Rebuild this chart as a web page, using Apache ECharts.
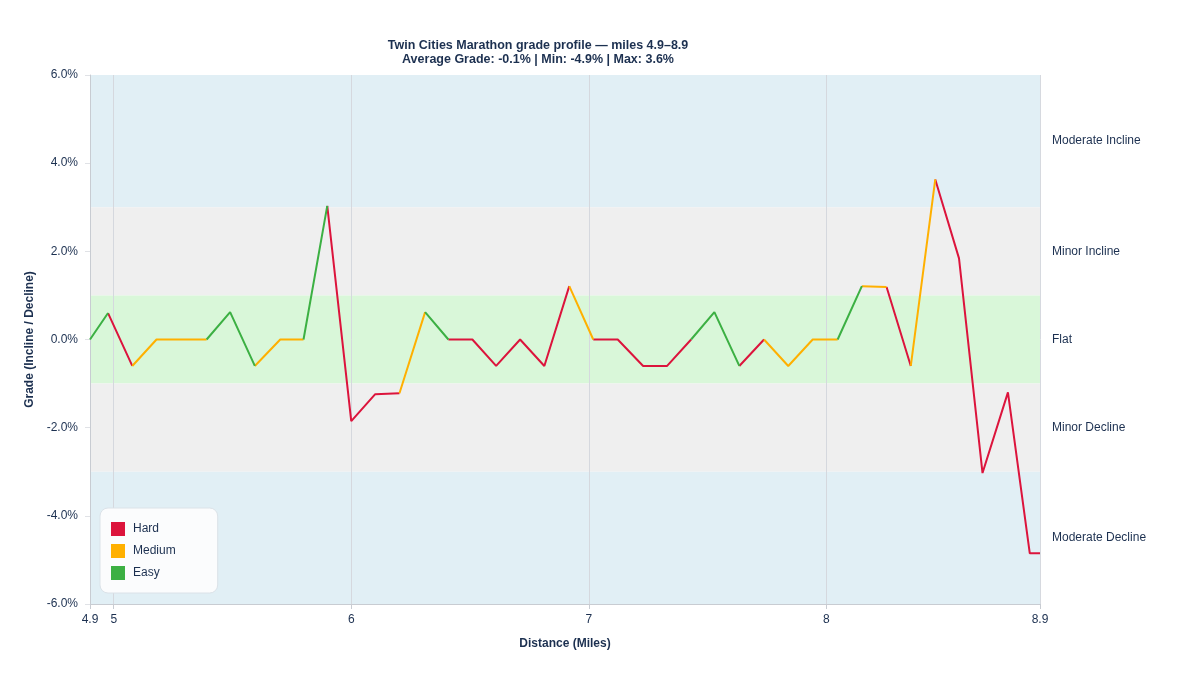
<!DOCTYPE html>
<html>
<head>
<meta charset="utf-8">
<title>Twin Cities Marathon grade profile</title>
<script src="https://cdn.jsdelivr.net/npm/echarts@6/dist/echarts.min.js"></script>
<style>
  html, body { margin: 0; padding: 0; background: #fff; }
  #chart { width: 1200px; height: 675px; }
</style>
</head>
<body>
<div id="chart"></div>
<script>
// course points (distance in miles, grade in %)
var miles = [4.9, 4.976, 5.078, 5.18, 5.284, 5.391, 5.49, 5.594, 5.701, 5.799,
  5.899, 6.0, 6.101, 6.203, 6.311, 6.409, 6.51, 6.61, 6.711, 6.813,
  6.918, 7.019, 7.122, 7.229, 7.33, 7.431, 7.529, 7.634, 7.738, 7.84,
  7.943, 8.048, 8.15, 8.254, 8.356, 8.459, 8.559, 8.658, 8.765, 8.857, 8.9];
var grades = [0.0, 0.6, -0.6, 0.0, 0.0, 0.0, 0.62, -0.6, 0.0, 0.0,
  3.03, -1.85, -1.24, -1.22, 0.62, 0.0, 0.0, -0.6, 0.0, -0.6,
  1.21, 0.0, 0.0, -0.6, -0.6, 0.0, 0.62, -0.6, 0.0, -0.6,
  0.0, 0.0, 1.21, 1.19, -0.6, 3.63, 1.84, -3.03, -1.2, -4.85, -4.85];
// difficulty of each segment (point i -> i+1): H hard, M medium, E easy
var segLevel = ['E','H','M','M','M','E','E','M','M','E',
  'H','H','H','M','E','H','H','H','H','H',
  'M','H','H','H','H','E','E','H','M','M',
  'M','E','M','H','M','H','H','H','H','H'];
var levelNames = ['Hard', 'Medium', 'Easy'];
var levelCodes = ['H', 'M', 'E'];
var levelColors = ['#dc143c', '#ffb000', '#3cb043'];
var xTicks = [4.9, 5, 6, 7, 8, 8.9];
var mileLines = [5, 6, 7, 8];
var bands = [
  { name: 'Moderate Incline', from: 3, to: 6, color: '#e1eff5' },
  { name: 'Minor Incline', from: 1, to: 3, color: '#efefef' },
  { name: 'Flat', from: -1, to: 1, color: '#d9f7d9' },
  { name: 'Minor Decline', from: -3, to: -1, color: '#efefef' },
  { name: 'Moderate Decline', from: -6, to: -3, color: '#e1eff5' }
];

var textColor = '#1c3050';
var fontFam = '"Liberation Sans", Arial, Helvetica, sans-serif';

// build one broken polyline per difficulty level
function buildLevel(code) {
  var out = [];
  var lastIdx = -2;
  for (var i = 0; i < segLevel.length; i++) {
    if (segLevel[i] !== code) continue;
    if (lastIdx !== i) {
      if (out.length) out.push(['-', '-']);
      out.push([miles[i], grades[i]]);
    }
    out.push([miles[i + 1], grades[i + 1]]);
    lastIdx = i + 1;
  }
  return out;
}

var series = [{
  name: 'bands',
  type: 'line',
  data: [],
  z: 1,
  silent: true,
  markArea: {
    silent: true,
    z: 0,
    label: {
      show: true,
      position: 'right',
      distance: 12,
      color: textColor,
      fontSize: 12,
      fontFamily: fontFam
    },
    data: bands.map(function (b) {
      return [
        { name: b.name, yAxis: b.from, itemStyle: { color: b.color } },
        { yAxis: b.to }
      ];
    })
  }
}, {
  name: 'mileLines',
  type: 'line',
  data: [],
  z: 2,
  silent: true,
  markLine: {
    silent: true,
    z: 1,
    symbol: ['none', 'none'],
    label: { show: false },
    lineStyle: { color: '#d5d8de', type: 'solid', width: 1 },
    data: mileLines.map(function (m) { return { xAxis: m }; })
  }
}];
for (var k = 0; k < levelCodes.length; k++) {
  series.push({
    name: levelNames[k],
    type: 'line',
    z: 3,
    data: buildLevel(levelCodes[k]),
    showSymbol: false,
    connectNulls: false,
    color: levelColors[k],
    lineStyle: { width: 2, color: levelColors[k] },
    emphasis: { disabled: true }
  });
}

var legendData = levelNames.map(function (n, i) {
  return { name: n, icon: 'rect', itemStyle: { color: levelColors[i], borderWidth: 0 } };
});

var mychart = echarts.init(document.getElementById('chart'));
var option = {
  backgroundColor: '#fff',
  animation: false,
  textStyle: { fontFamily: fontFam },
  title: {
    text: 'Twin Cities Marathon grade profile \u2014 miles 4.9\u20138.9\nAverage Grade: -0.1% | Min: -4.9% | Max: 3.6%',
    left: 533,
    top: 34,
    textAlign: 'center',
    textStyle: {
      color: textColor,
      fontSize: 12.5,
      fontWeight: 'bold',
      lineHeight: 14,
      fontFamily: fontFam
    }
  },
  legend: {
    data: legendData,
    orient: 'vertical',
    left: 100,
    top: 508,
    z: 10,
    padding: [14, 42, 13, 11],
    itemWidth: 14,
    itemHeight: 14,
    itemGap: 8,
    icon: 'rect',
    lineStyle: { width: 0, opacity: 0 },
    itemStyle: { borderWidth: 0 },
    backgroundColor: '#fbfcfd',
    borderColor: '#dbe2e8',
    borderWidth: 1,
    borderRadius: 8,
    textStyle: { color: textColor, fontSize: 12, fontFamily: fontFam, padding: [0, 0, 0, 3] }
  },
  grid: { left: 90, right: 160, top: 75, bottom: 71 },
  xAxis: {
    type: 'value',
    min: 4.9,
    max: 8.9,
    name: 'Distance (Miles)',
    nameLocation: 'middle',
    nameGap: 34,
    nameTextStyle: { color: textColor, fontSize: 12, fontWeight: 'bold' },
    axisLine: { show: true, onZero: false, lineStyle: { color: '#c8ccd2' } },
    axisTick: { show: true, customValues: xTicks, length: 5, lineStyle: { color: '#c8ccd2' } },
    axisLabel: { customValues: xTicks, color: textColor, fontSize: 12, margin: 10 },
    splitLine: { show: true, lineStyle: { color: '#d6d9df' } }
  },
  yAxis: {
    type: 'value',
    min: -6,
    max: 6,
    interval: 2,
    name: 'Grade (Incline / Decline)',
    nameLocation: 'middle',
    nameGap: 50,
    nameTextStyle: { color: textColor, fontSize: 12, fontWeight: 'bold' },
    axisLine: { show: true, lineStyle: { color: '#c8ccd2' } },
    axisTick: { show: true, length: 5, lineStyle: { color: '#e0e2e6' } },
    axisLabel: {
      color: textColor,
      fontSize: 12,
      margin: 12,
      formatter: function (v) { return v.toFixed(1) + '%'; }
    },
    splitLine: { show: true, lineStyle: { color: 'rgba(0,0,0,0.05)' } }
  },
  series: series
};
mychart.setOption(option);
</script>
</body>
</html>
